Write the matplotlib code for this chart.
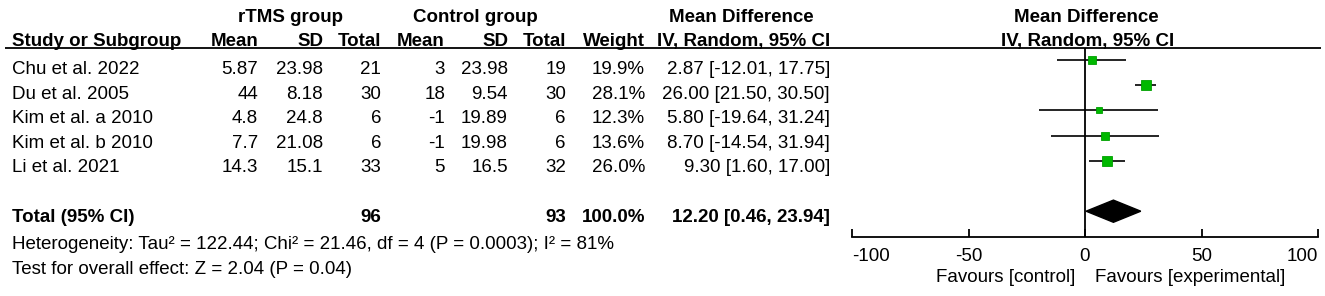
import matplotlib
matplotlib.use("Agg")
import matplotlib.pyplot as plt
import numpy as np
from matplotlib.patches import Polygon

plt.rcParams["font.family"] = ["Liberation Sans", "DejaVu Sans"]
FS = 13.5

# data
studies = ["Chu et al. 2022", "Du et al. 2005", "Kim et al. a 2010", "Kim et al. b 2010", "Li et al. 2021"]
rtms_mean = [5.87, 44, 4.8, 7.7, 14.3]
rtms_sd = [23.98, 8.18, 24.8, 21.08, 15.1]
rtms_n = [21, 30, 6, 6, 33]
ctrl_mean = [3, 18, -1, -1, 5]
ctrl_sd = [23.98, 9.54, 19.89, 19.98, 16.5]
ctrl_n = [19, 30, 6, 6, 32]
weight = [19.9, 28.1, 12.3, 13.6, 26.0]
md = [2.87, 26.00, 5.80, 8.70, 9.30]
ci_lo = [-12.01, 21.50, -19.64, -14.54, 1.60]
ci_hi = [17.75, 30.50, 31.24, 31.94, 17.00]
total_md, total_lo, total_hi = 12.20, 0.46, 23.94
total_rtms, total_ctrl, total_w = 96, 93, 100.0
xticks = [-100, -50, 0, 50, 100]
heterogeneity = "Heterogeneity: Tau² = 122.44; Chi² = 21.46, df = 4 (P = 0.0003); I² = 81%"
overall = "Test for overall effect: Z = 2.04 (P = 0.04)"

W, H = 1325, 296
fig = plt.figure(figsize=(W / 100, H / 100), dpi=100)

# table axes in pixel units
tab = fig.add_axes([0, 0, 1, 1])
tab.set_xlim(0, W)
tab.set_ylim(H, 0)
tab.axis("off")

def txt(x, y, s, ha="right", bold=False):
    tab.text(x, y, s, ha=ha, va="baseline", fontsize=FS,
             fontweight="bold" if bold else "normal")

# column right edges
cols = [258, 323, 381, 445, 508, 566, 645, 830]

# headers
txt(290, 22, "rTMS group", ha="center", bold=True)
txt(475, 22, "Control group", ha="center", bold=True)
txt(741, 22, "Mean Difference", ha="center", bold=True)
txt(1086, 22, "Mean Difference", ha="center", bold=True)
txt(12, 46, "Study or Subgroup", ha="left", bold=True)
for x, s in zip(cols, ["Mean", "SD", "Total", "Mean", "SD", "Total", "Weight", "IV, Random, 95% CI"]):
    txt(x, 46, s, bold=True)
txt(1088, 46, "IV, Random, 95% CI", ha="center", bold=True)
tab.plot([5, 1321], [48, 48], color="black", lw=1.3, solid_capstyle="butt")

# study rows
for i, name in enumerate(studies):
    yb = 74 + 24.6 * i
    txt(12, yb, name, ha="left")
    vals = [f"{rtms_mean[i]:g}", f"{rtms_sd[i]:g}", f"{rtms_n[i]}",
            f"{ctrl_mean[i]:g}", f"{ctrl_sd[i]:g}", f"{ctrl_n[i]}",
            f"{weight[i]:.1f}%", f"{md[i]:.2f} [{ci_lo[i]:.2f}, {ci_hi[i]:.2f}]"]
    for x, s in zip(cols, vals):
        txt(x, yb, s)

# total row
txt(12, 222, "Total (95% CI)", ha="left", bold=True)
txt(cols[2], 222, f"{total_rtms}", bold=True)
txt(cols[5], 222, f"{total_ctrl}", bold=True)
txt(cols[6], 222, f"{total_w:.1f}%", bold=True)
txt(cols[7], 222, f"{total_md:.2f} [{total_lo:.2f}, {total_hi:.2f}]", bold=True)
txt(12, 249, heterogeneity, ha="left")
txt(12, 274, overall, ha="left")
txt(1075, 282, "Favours [control]", ha="right")
txt(1095, 282, "Favours [experimental]", ha="left")

# forest panel: x in MD units, y in row index (row i at pixel 60 + 25.2*i)
px_top, px_bot = 48, 237
x0, x1 = 852, 1318
ax = fig.add_axes([x0 / W, 1 - px_bot / H, (x1 - x0) / W, (px_bot - px_top) / H])
ax.patch.set_alpha(0)
ax.set_xlim(-100, 100)
ax.set_ylim((px_bot - 60) / 25.2, (px_top - 60) / 25.2)
for s in ["top", "left", "right"]:
    ax.spines[s].set_visible(False)
ax.spines["bottom"].set_linewidth(1.3)
ax.set_yticks([])
ax.set_xticks(xticks)
ax.set_xticklabels([f"{t}" for t in xticks])
ax.tick_params(axis="x", direction="in", length=6, width=1.3, labelsize=FS, pad=8)
labels = ax.get_xticklabels()
labels[0].set_ha("left")
labels[-1].set_ha("right")
ax.axvline(0, color="black", lw=1.3)

rows = np.arange(len(studies))
ax.hlines(rows, ci_lo, ci_hi, color="black", lw=1.2)
for i in rows:
    ax.plot(md[i], i, marker="s", ms=1.4 * np.sqrt(weight[i]),
            mfc="#00B800", mec="#00A000", mew=0.6, ls="none")

total_row = len(studies) + 1
half = 0.44
ax.add_patch(Polygon([(total_lo, total_row), (total_md, total_row - half),
                      (total_hi, total_row), (total_md, total_row + half)],
                     closed=True, facecolor="black", edgecolor="black"))

fig.savefig("out.png", dpi=100)
